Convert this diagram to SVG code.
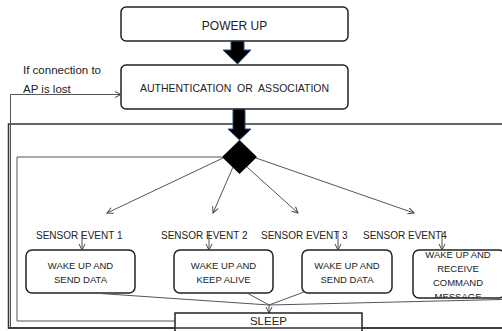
<svg xmlns="http://www.w3.org/2000/svg" width="502" height="331" viewBox="0 0 502 331">
<style>
text{font-family:"Liberation Sans",Arial,sans-serif;fill:#222}
.box{fill:#fff;stroke:#222;stroke-width:1.5}
.ln{fill:none;stroke:#555;stroke-width:1}
.big{fill:#000;stroke:#2a4f80;stroke-width:1}
.c{text-anchor:middle}
</style>
<defs>
<marker id="oa" markerWidth="8" markerHeight="8" refX="7" refY="4" orient="auto" markerUnits="userSpaceOnUse">
<path d="M1,1 L7,4 L1,7" fill="none" stroke="#444" stroke-width="1"/>
</marker>
<clipPath id="c4"><rect x="413" y="251" width="95" height="47"/></clipPath>
</defs>
<rect x="0" y="0" width="502" height="331" fill="#fff"/>
<g id="container"><rect x="8.5" y="124" width="510" height="204" fill="none" stroke="#333" stroke-width="1.5"/></g>
<g id="power-up"><rect class="box" x="121" y="7" width="227" height="34" rx="5"/><text class="c" x="234.5" y="29.5" font-size="12">POWER UP</text></g>
<g id="auth"><rect class="box" x="121" y="65" width="227" height="44" rx="5"/><text class="c" x="234.5" y="92" font-size="10.5" xml:space="preserve">AUTHENTICATION  OR  ASSOCIATION</text></g>
<g id="lost-label"><text x="23" y="74" font-size="11.5">If connection to</text><text x="23" y="93" font-size="11.5">AP is lost</text></g>
<g id="decision"><polygon points="239.5,140 257,157 239.5,174 222,157" fill="#000"/></g>
<g id="sensor-labels" font-size="10">
<text x="36" y="239" font-size="10">SENSOR EVENT 1</text>
<text x="161" y="239" font-size="10">SENSOR EVENT 2</text>
<text x="261" y="239" font-size="10">SENSOR EVENT 3</text>
<text x="363" y="239" font-size="10">SENSOR EVENT4</text>
</g>
<g id="wake1"><rect class="box" x="26" y="250" width="109" height="43" rx="6"/><text class="c" x="80.5" y="269" font-size="9.5">WAKE UP AND</text><text class="c" x="80.5" y="283" font-size="9.5">SEND DATA</text></g>
<g id="wake2"><rect class="box" x="174" y="250" width="99" height="43" rx="6"/><text class="c" x="223.5" y="269" font-size="9.5">WAKE UP AND</text><text class="c" x="223.5" y="283" font-size="9.5">KEEP ALIVE</text></g>
<g id="wake3"><rect class="box" x="302" y="250" width="90" height="43" rx="6"/><text class="c" x="347" y="269" font-size="9.5">WAKE UP AND</text><text class="c" x="347" y="283" font-size="9.5">SEND DATA</text></g>
<g id="wake4"><rect class="box" x="413" y="250" width="92" height="48" rx="6"/>
<g clip-path="url(#c4)"><text class="c" x="458" y="258" font-size="9.5">WAKE UP AND</text><text class="c" x="458" y="272" font-size="9.5">RECEIVE</text><text class="c" x="458" y="286" font-size="9.5">COMMAND</text><text class="c" x="458" y="300" font-size="9.5">MESSAGE</text></g></g>
<g id="connectors">
<path class="big" d="M231,41 H244 V50 H251 L237.5,64 L223,50 H231 Z"/>
<path class="big" d="M233,109 H245 V129 H251 L239.5,140 L228,129 H233 Z"/>
<path class="ln" d="M10.5,328 V94.5 H121" marker-end="url(#oa)"/>
<path class="ln" d="M175,321 H17 V157 H222"/>
<line class="ln" x1="223" y1="158" x2="107" y2="213" marker-end="url(#oa)"/>
<line class="ln" x1="233" y1="167" x2="213" y2="213" marker-end="url(#oa)"/>
<line class="ln" x1="247" y1="167" x2="298" y2="213" marker-end="url(#oa)"/>
<line class="ln" x1="256" y1="158" x2="414" y2="213" marker-end="url(#oa)"/>
<line class="ln" x1="82" y1="231" x2="82" y2="250" marker-end="url(#oa)"/>
<line class="ln" x1="209" y1="231" x2="209" y2="250" marker-end="url(#oa)"/>
<line class="ln" x1="338" y1="231" x2="338" y2="250" marker-end="url(#oa)"/>
<line class="ln" x1="442" y1="231" x2="442" y2="250" marker-end="url(#oa)"/>
<line class="ln" x1="93" y1="293" x2="269" y2="305"/>
<line class="ln" x1="247" y1="293" x2="269" y2="305"/>
<line class="ln" x1="304" y1="292" x2="269" y2="305"/>
<line class="ln" x1="502" y1="299.5" x2="269" y2="305"/>
<line class="ln" x1="269" y1="305" x2="269" y2="313" marker-end="url(#oa)"/>
</g>
<g id="sleep"><rect x="175" y="313" width="187" height="25" fill="#fff" stroke="#222" stroke-width="1.5"/><text class="c" x="268.5" y="325" font-size="11.5">SLEEP</text></g>
<line x1="8" y1="328" x2="502" y2="328" stroke="#333" stroke-width="1.5"/>
</svg>
